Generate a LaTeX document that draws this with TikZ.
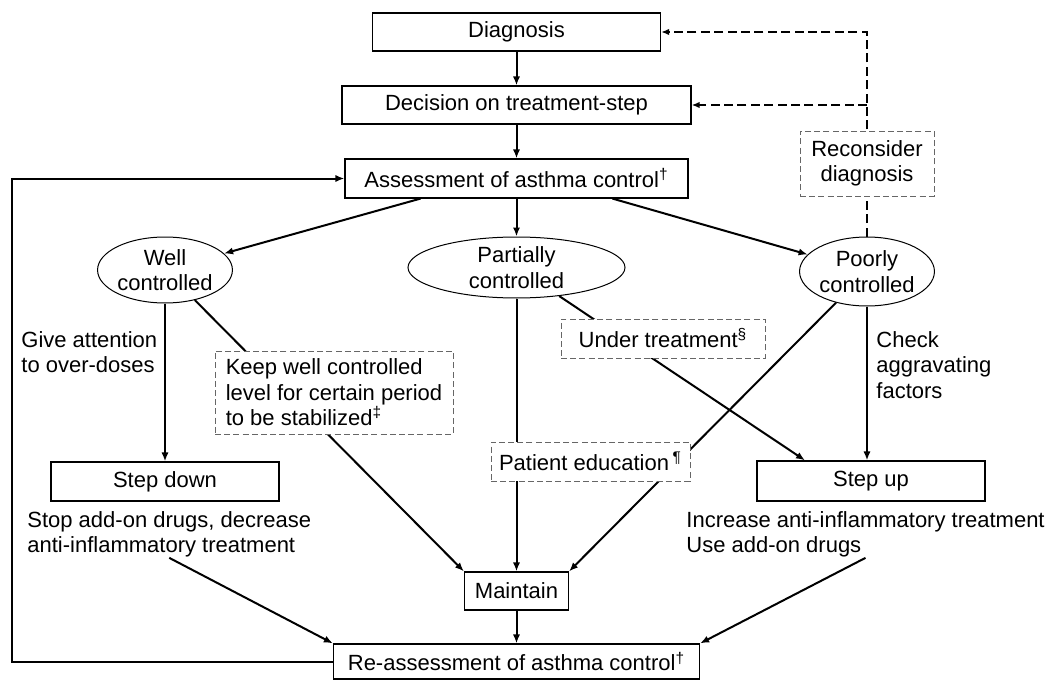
\documentclass[tikz,border=0pt]{standalone}
\usepackage{fontspec}
\setmainfont{Liberation Sans}
\usetikzlibrary{shapes.geometric, arrows.meta, backgrounds}

\begin{document}
\begin{tikzpicture}[x=0.5pt,y=-0.5pt,
    font=\fontsize{11}{12.7}\selectfont,
    box/.style={draw,line width=0.6pt,inner sep=0pt,minimum height=19pt},
    oval/.style={draw,ellipse,line width=0.5pt,inner sep=0pt,align=center},
    note/.style={draw=black!60,dash pattern=on 3pt off 1.6pt,line width=0.5pt,fill=white,inner sep=0pt,minimum height=19pt},
    plain/.style={inner sep=0pt,align=left},
    arr/.style={line width=1pt,-{Latex[length=4.5pt,width=3.6pt]}},
    back/.style={line width=0.8pt,dash pattern=on 4.5pt off 2.2pt,-{Latex[length=4pt,width=3.2pt]}}
  ]
    \useasboundingbox (0,0) rectangle (1057,680);

    \node[box,minimum width=144pt] (diag) at (516.5,32) {Diagnosis};
    \node[box,minimum width=174.5pt] (dec) at (516.5,105) {Decision on treatment-step};
    \node[box,minimum width=171.5pt,minimum height=19.5pt] (assess) at (516.5,178.5) {Assessment of asthma control\textsuperscript{\textdagger}};

    \node[oval,minimum width=67pt,minimum height=33pt] (well) at (165,270) {Well\\controlled};
    \node[oval,minimum width=108.5pt,minimum height=30.5pt] (partial) at (516.5,267.5) {Partially\\controlled};
    \node[oval,minimum width=67pt,minimum height=34.5pt] (poor) at (867,271.5) {Poorly\\controlled};

    \node[note,minimum width=67pt,minimum height=32.5pt,align=center] (recon) at (867,163.5) {Reconsider\\diagnosis};
    \node[note,minimum width=119pt,minimum height=41.5pt,align=left] (keep) at (334,392.5) {Keep well controlled\\level for certain period\\to be stabilized\textsuperscript{\textdaggerdbl}};
    \node[note,minimum width=102pt,minimum height=19.5pt] (under) at (663,338.5) {Under treatment\textsuperscript{\S}};
    \node[note,minimum width=99.5pt,minimum height=19.5pt] (patient) at (590.5,461.5) {Patient education\,\textsuperscript{\P}};

    \node[box,minimum width=114pt,minimum height=19.5pt] (sdown) at (165,481.5) {Step down};
    \node[box,minimum width=114pt,minimum height=20pt] (sup) at (871,481) {Step up};
    \node[box,minimum width=52pt] (maint) at (516.5,591) {Maintain};
    \node[box,minimum width=183pt,minimum height=17.5pt] (reass) at (516.5,661.5) {Re-assessment of asthma control\textsuperscript{\textdagger}};

    \node[plain,anchor=west] (attn) at (21,352) {Give attention\\to over-doses};
    \node[plain,anchor=west] (check) at (876,365) {Check\\aggravating\\factors};
    \node[plain,anchor=west] (sdtext) at (27,534.5) {Stop add-on drugs, decrease\\anti-inflammatory treatment};
    \node[plain,anchor=west] (suptext) at (686,534.5) {Increase anti-inflammatory treatment\\Use add-on drugs};

    \coordinate (loop) at (12,661.5);

    \begin{scope}[on background layer]
      \draw[arr] (diag) -- (dec);
      \draw[arr] (dec) -- (assess);
      \draw[arr] ([xshift=-48pt]assess.south) -- (well);
      \draw[arr] (assess) -- (partial);
      \draw[arr] ([xshift=48pt]assess.south) -- (poor);
      \draw[arr] (well) -- (sdown);
      \draw[arr] (well) -- (maint.north west);
      \draw[arr] (partial) -- (maint);
      \draw[arr] (poor) -- (maint.north east);
      \draw[arr] (partial) -- ([xshift=-33pt]sup.north);
      \draw[arr] (poor.south) -- (poor.south |- sup.north);
      \draw[arr] (maint) -- (reass);
      \draw[arr] (sdtext.south) -- (reass.north west);
      \draw[arr] (suptext.south) -- (reass.north east);
      \draw[arr] (reass.west) -- (loop) |- (assess.west);
      \draw[back] (poor.north) -- (poor.north |- diag) -- (diag.east);
      \draw[back] (poor.north |- dec) -- (dec.east);
    \end{scope}
\end{tikzpicture}
\end{document}
